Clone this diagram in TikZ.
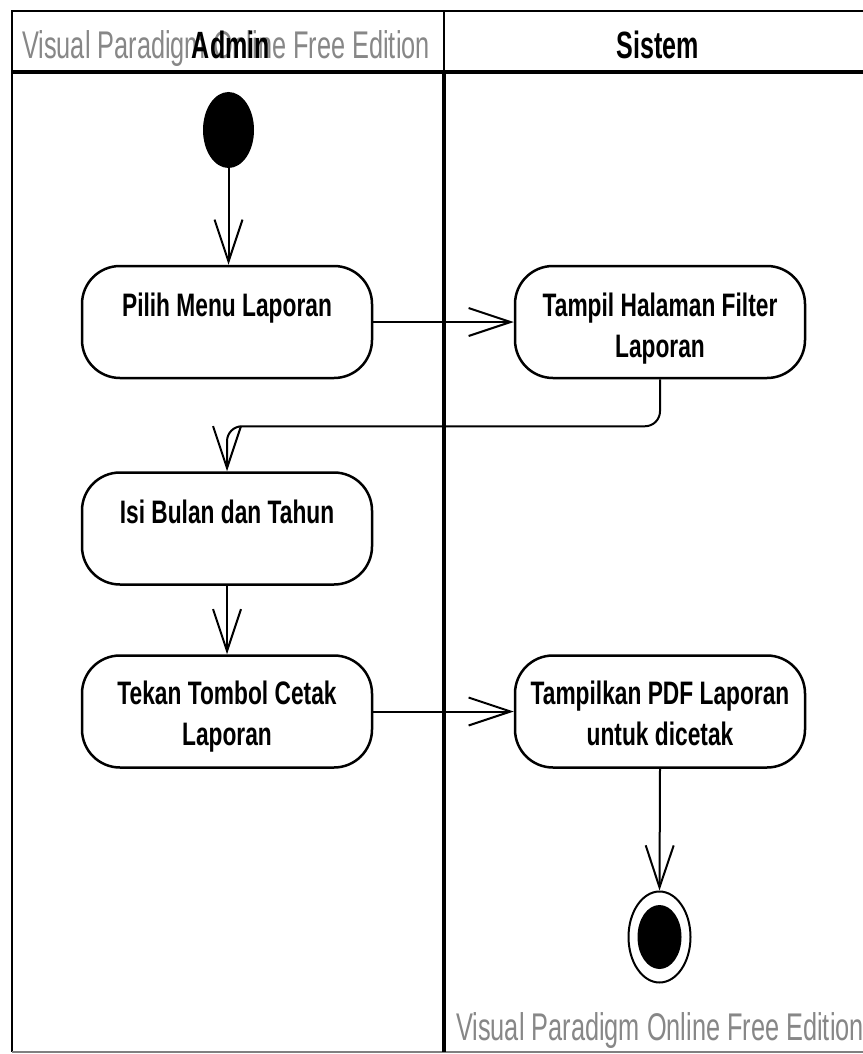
\documentclass[tikz,border=0pt]{standalone}
\usepackage{fontspec}
\setmainfont{Liberation Sans}
\newfontfamily\nodefont[FakeStretch=0.70]{Liberation Sans}
\newfontfamily\wmfont[FakeStretch=0.656]{Liberation Sans}
\newfontfamily\hdfont[FakeStretch=0.66]{Liberation Sans}
\usetikzlibrary{arrows.meta,calc,shapes.geometric}
\definecolor{wmgray}{RGB}{135,135,135}
\begin{document}
\begin{tikzpicture}[x=1pt,y=-1pt,
 activity/.style={draw, line width=2.5pt, rounded corners=38pt, minimum width=290pt, minimum height=112pt, inner sep=0pt},
 lbl/.style={font=\nodefont\bfseries\fontsize{32.5}{41}\selectfont, align=center, inner sep=0pt, anchor=base},
 arr/.style={line width=2pt, -{Straight Barb[length=42pt,width=28pt,line width=2pt]}},
 wm/.style={font=\wmfont\fontsize{38.6}{40}\selectfont, text=wmgray, inner sep=0pt, anchor=base},
 hd/.style={font=\hdfont\bfseries\fontsize{38}{40}\selectfont, inner sep=0pt, anchor=base}]
\useasboundingbox (0,0) rectangle (862,1054);
\fill[white] (0,0) rectangle (862,1054);
% frame
\draw[line width=2.5pt] (866,11) -- (12,11) -- (12,1052);
\draw[line width=1.5pt, gray] (12,1052) -- (866,1052);
\draw[line width=3.5pt] (12,72) -- (866,72);
\draw[line width=2pt] (444,11) -- (444,72);
\draw[line width=3.5pt] (444,72) -- (444,1052);
% header
\node[wm] (wm1) at (226,59) {Visual Paradigm Online Free Edition};
\node[hd] (admin) at (231,59) {Admin};
\node[hd] (sistem) at (658,59) {Sistem};
% start / end
\node[ellipse, fill=black, minimum width=51pt, minimum height=76pt, inner sep=0pt] (start) at (228.5,130) {};
\node[ellipse, draw, line width=2pt, minimum width=62pt, minimum height=91pt, inner sep=0pt] (end) at (659.5,937) {};
\node[ellipse, fill=black, minimum width=44pt, minimum height=64pt, inner sep=0pt] (endin) at (end.center) {};
% activities
\node[activity] (pilih) at (227,322) {};
\node[activity] (tampil) at (660,322) {};
\node[activity] (isi) at (227,528.5) {};
\node[activity] (tekan) at (227,711.5) {};
\node[activity] (pdf) at (660,711.5) {};
\node[lbl] (tpilih) at ($(pilih.north)+(0,52)$) {Pilih Menu Laporan};
\node[lbl] (ttampil) at ($(tampil.north)+(0,93)$) {Tampil Halaman Filter\\Laporan};
\node[lbl] (tisi) at ($(isi.north)+(0,52)$) {Isi Bulan dan Tahun};
\node[lbl] (ttekan) at ($(tekan.north)+(0,91)$) {Tekan Tombol Cetak\\Laporan};
\node[lbl] (tpdf) at ($(pdf.north)+(0,91)$) {Tampilkan PDF Laporan\\untuk dicetak};
% connectors
\draw[arr] (start) -- (start |- pilih.north);
\draw[arr] (pilih) -- (tampil);
\draw[arr, rounded corners=15pt] (tampil.south) -- ++(0,47) -| (isi.north);
\draw[arr] (isi) -- (tekan);
\draw[arr] (tekan) -- (pdf);
\draw[arr] (pdf.south) -- (end.north);
% bottom watermark
\node[wm] (wm2) at (660,1040) {Visual Paradigm Online Free Edition};
\end{tikzpicture}
\end{document}
